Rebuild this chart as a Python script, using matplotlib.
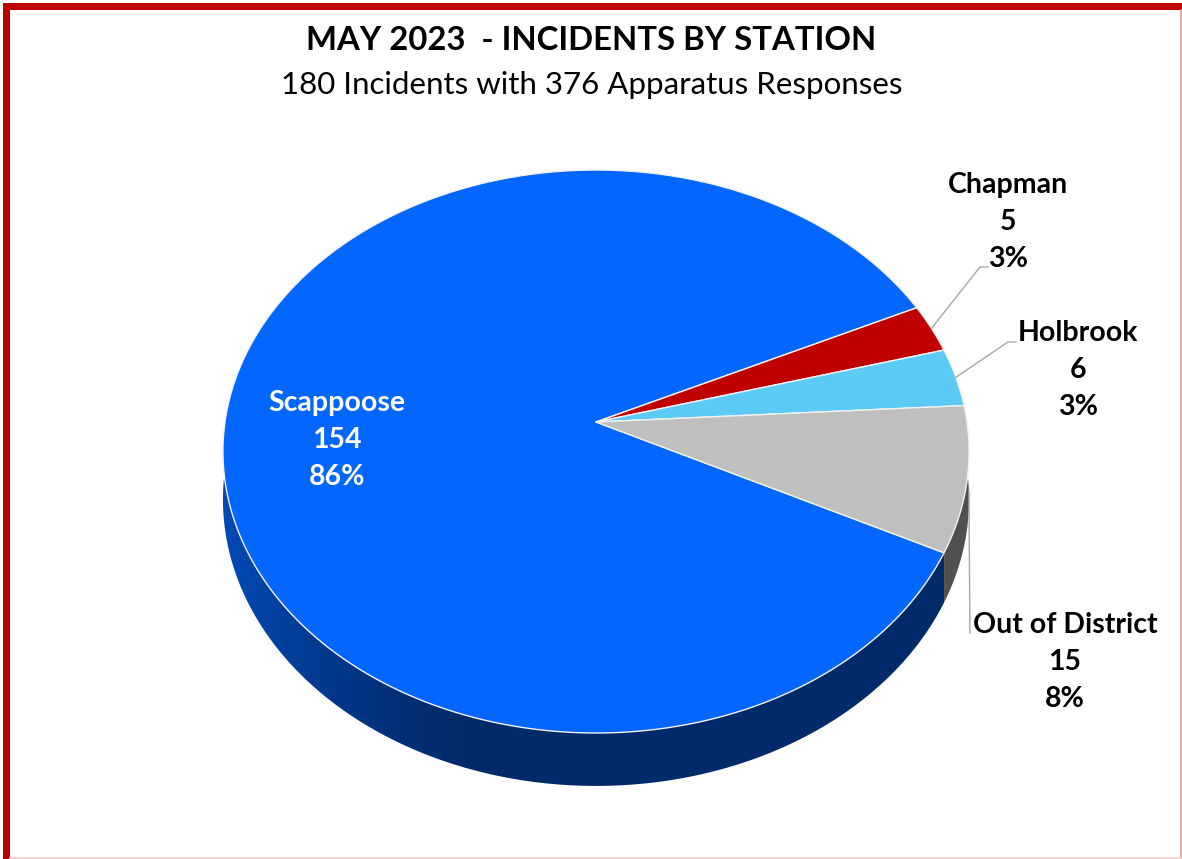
import numpy as np
import matplotlib.pyplot as plt
from matplotlib.colors import to_rgb
from matplotlib.patches import Polygon, Rectangle

# data
stations = ["Scappoose", "Chapman", "Holbrook", "Out of District"]
counts = [154, 5, 6, 15]
top_colors = ["#0366fe", "#c00000", "#5bcbf5", "#bfbfbf"]
title = "MAY 2023  - INCIDENTS BY STATION"
subtitle = "180 Incidents with 376 Apparatus Responses"

# pie geometry (pixels)
CX, CY = 596, 422
A, B, G = 371, 278.4, -0.1048
DEPTH = 47.4
START = 26.6

W, H = 1182, 859


def proj(theta_deg, r=1.0, z=0.0):
    t = np.radians(theta_deg)
    X = r * np.cos(t)
    Y = r * np.sin(t)
    d = 1 + G * Y
    return CX + A * X / d, CY + (B * Y + DEPTH * z) / d


fig = plt.figure(figsize=(W / 100, H / 100), dpi=100)
ax = fig.add_axes([0, 0, 1, 1])

total = sum(counts)
spans = []
a0 = START
for v in counts:
    a1 = a0 + 360.0 * v / total
    spans.append((a0, a1))
    a0 = a1

# side walls, shaded from left (lighter) to right (darker)
gx = np.linspace(200, 1000, 400)
shade = 0.42 + 0.30 * np.clip((470 - gx) / 245.0, 0, 1) ** 1.5
for (s0, s1), col in zip(spans, top_colors):
    rgb = np.array(to_rgb(col))
    for off in (-360, 0, 360):
        lo = max(s0 + off, 0)
        hi = min(s1 + off, 180)
        if hi <= lo:
            continue
        angs = np.linspace(lo, hi, 200)
        pts = [proj(t) for t in angs] + [proj(t, z=1) for t in angs[::-1]]
        poly = Polygon(pts, closed=True, facecolor="none", edgecolor="none")
        ax.add_patch(poly)
        img = np.tile((shade[:, None] * rgb[None, :])[None, :, :], (2, 1, 1))
        im = ax.imshow(img, extent=(200, 1000, 800, 400), aspect="auto",
                       interpolation="bilinear", zorder=1)
        im.set_clip_path(poly)

# top faces
for (s0, s1), col in zip(spans, top_colors):
    angs = np.linspace(s0, s1, max(int((s1 - s0) * 2), 4))
    pts = [(CX, CY)] + [proj(t) for t in angs]
    ax.add_patch(Polygon(pts, closed=True, facecolor=col, edgecolor="#f2f2f2",
                         linewidth=1.0, joinstyle="round", zorder=2))

ax.set_xlim(0, W)
ax.set_ylim(H, 0)
ax.axis("off")

# labels
fs = 20.5
font = "Lato"
pcts = [round(100 * v / total) for v in counts]


def label(x, y, name, v, p, color="black"):
    for i, s in enumerate([name, str(v), f"{p}%"]):
        ax.text(x, y + i * 37, s, ha="center", va="center", fontsize=fs,
                fontweight="bold", family=font, color=color, zorder=5)


label(337, 403, stations[0], counts[0], pcts[0], color="white")

lab_pos = {1: (1008, 185, 988, 267), 2: (1078, 333, 1016, 342), 3: (1065, 625, 970, 633)}
for i, (lx, ly, ex, ey) in lab_pos.items():
    label(lx, ly, stations[i], counts[i], pcts[i])
    mid = (spans[i][0] + spans[i][1]) / 2
    if i == 3:
        sx, sy = proj(mid - 4, z=0.65)
        ax.plot([sx, sx + 1, ex], [sy, ey, ey], color="#a6a6a6", lw=1.0, zorder=4)
    else:
        sx, sy = proj(mid)
        ax.plot([sx, ex - 8, ex], [sy, ey, ey], color="#a6a6a6", lw=1.0, zorder=4)

# titles
ax.text(591, 40, title, ha="center", va="center", fontsize=23.7,
        fontweight="bold", family=font, color="black")
ax.text(592, 85, subtitle, ha="center", va="center", fontsize=22.5,
        family=font, color="black")

# frame
ax.add_patch(Rectangle((3, 3), W - 3, 7, facecolor="#c00000", edgecolor="none"))
ax.add_patch(Rectangle((3, 3), 7, H - 3, facecolor="#c00000", edgecolor="none"))
ax.plot([W - 1.5, W - 1.5], [10, H - 1], color="#e39a9a", lw=1.2)
ax.plot([10, W - 1], [H - 1.5, H - 1.5], color="#f5cccc", lw=1.2)

fig.savefig("out.png", dpi=100)
